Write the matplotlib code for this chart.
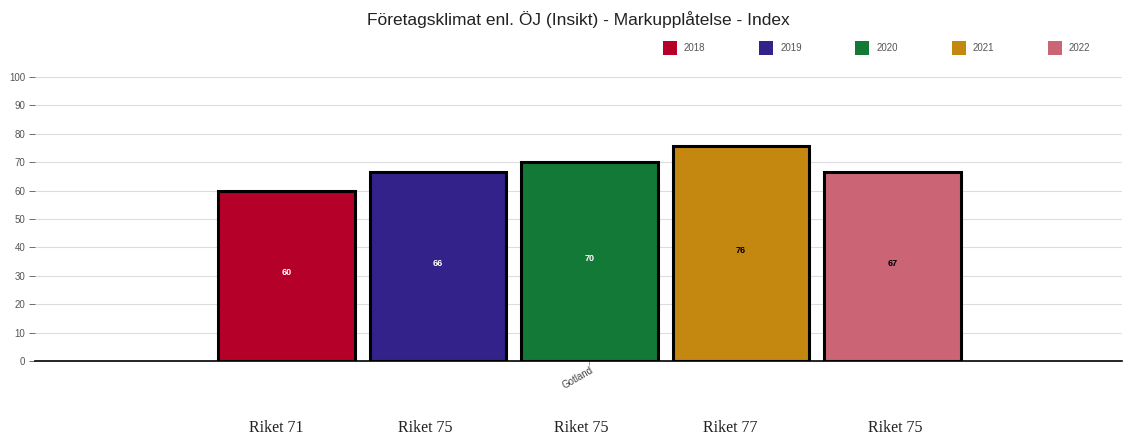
import numpy as np
import matplotlib.pyplot as plt
from matplotlib.patches import Rectangle
from matplotlib.transforms import offset_copy

years = ["2018", "2019", "2020", "2021", "2022"]
values = [60, 66.4, 70, 75.8, 66.6]
riket = ["Riket 71", "Riket 75", "Riket 75", "Riket 77", "Riket 75"]
colors = ["#b5002a", "#33228a", "#127a36", "#c4870f", "#cb6575"]
label_colors = ["white", "white", "white", "black", "black"]
category = "Gotland"
yticks = list(range(0, 101, 10))

plt.rcParams['font.family'] = ['Liberation Sans', 'DejaVu Sans']

fig = plt.figure(figsize=(11.32, 4.38), dpi=100)
# axes in pixels: left 35, right 1122, y0 at 361, y100 at 77
ax = fig.add_axes([35/1132, (438-361)/438, (1122-35)/1132, (361-77)/438])

x = np.arange(len(years))
ax.bar(x, values, width=0.9, color=colors, edgecolor="black", linewidth=2.2, zorder=3)
lbl_tr = offset_copy(ax.transData, fig=fig, x=0, y=3, units="dots")
for xi, v, c in zip(x, values, label_colors):
    ax.text(xi, v / 2, f"{v:.0f}", ha="center", va="center", fontsize=6.5,
            fontweight="bold", color=c, zorder=4, transform=lbl_tr)

ax.set_ylim(0, 100)
ax.set_xlim(-1.66, 5.515)
ax.set_yticks(yticks)
ax.tick_params(axis="y", labelsize=7, colors="#555555", length=4, width=0.6, pad=3)
ax.grid(axis="y", color="#dddddd", linewidth=0.8, zorder=0)
for s in ["top", "right", "left"]:
    ax.spines[s].set_visible(False)
ax.spines["bottom"].set_color("black")
ax.spines["bottom"].set_linewidth(1.2)
ax.set_xticks([2])
ax.set_xticklabels([category], rotation=30, ha="right", rotation_mode="anchor",
                   fontsize=7, color="#444444")
ax.tick_params(axis="x", length=3, width=0.6, colors="#888888", pad=0)
for lbl in ax.get_xticklabels():
    lbl.set_color("#444444")

# Riket labels below chart (pixel x centres)
riket_px = [276, 425, 581, 730, 895]
for px, r in zip(riket_px, riket):
    fig.text(px/1132, 1 - 428/438, r, ha="center", va="center", fontsize=11.5,
             family="Liberation Serif", color="#222222")

fig.text(578/1132, 1 - 20/438, "Företagsklimat enl. ÖJ (Insikt) - Markupplåtelse - Index",
         ha="center", va="center", fontsize=12.5, color="#222222")

# legend
for i, (yr, c) in enumerate(zip(years, colors)):
    lx = 663 + i * 96.2
    fig.patches.append(Rectangle((lx/1132, 1 - 55/438), 14/1132, 14/438,
                                 transform=fig.transFigure, facecolor=c, edgecolor="none"))
    fig.text((lx + 21)/1132, 1 - 48/438, yr, ha="left", va="center", fontsize=7, color="#555555")

fig.savefig("out.png", dpi=100)
